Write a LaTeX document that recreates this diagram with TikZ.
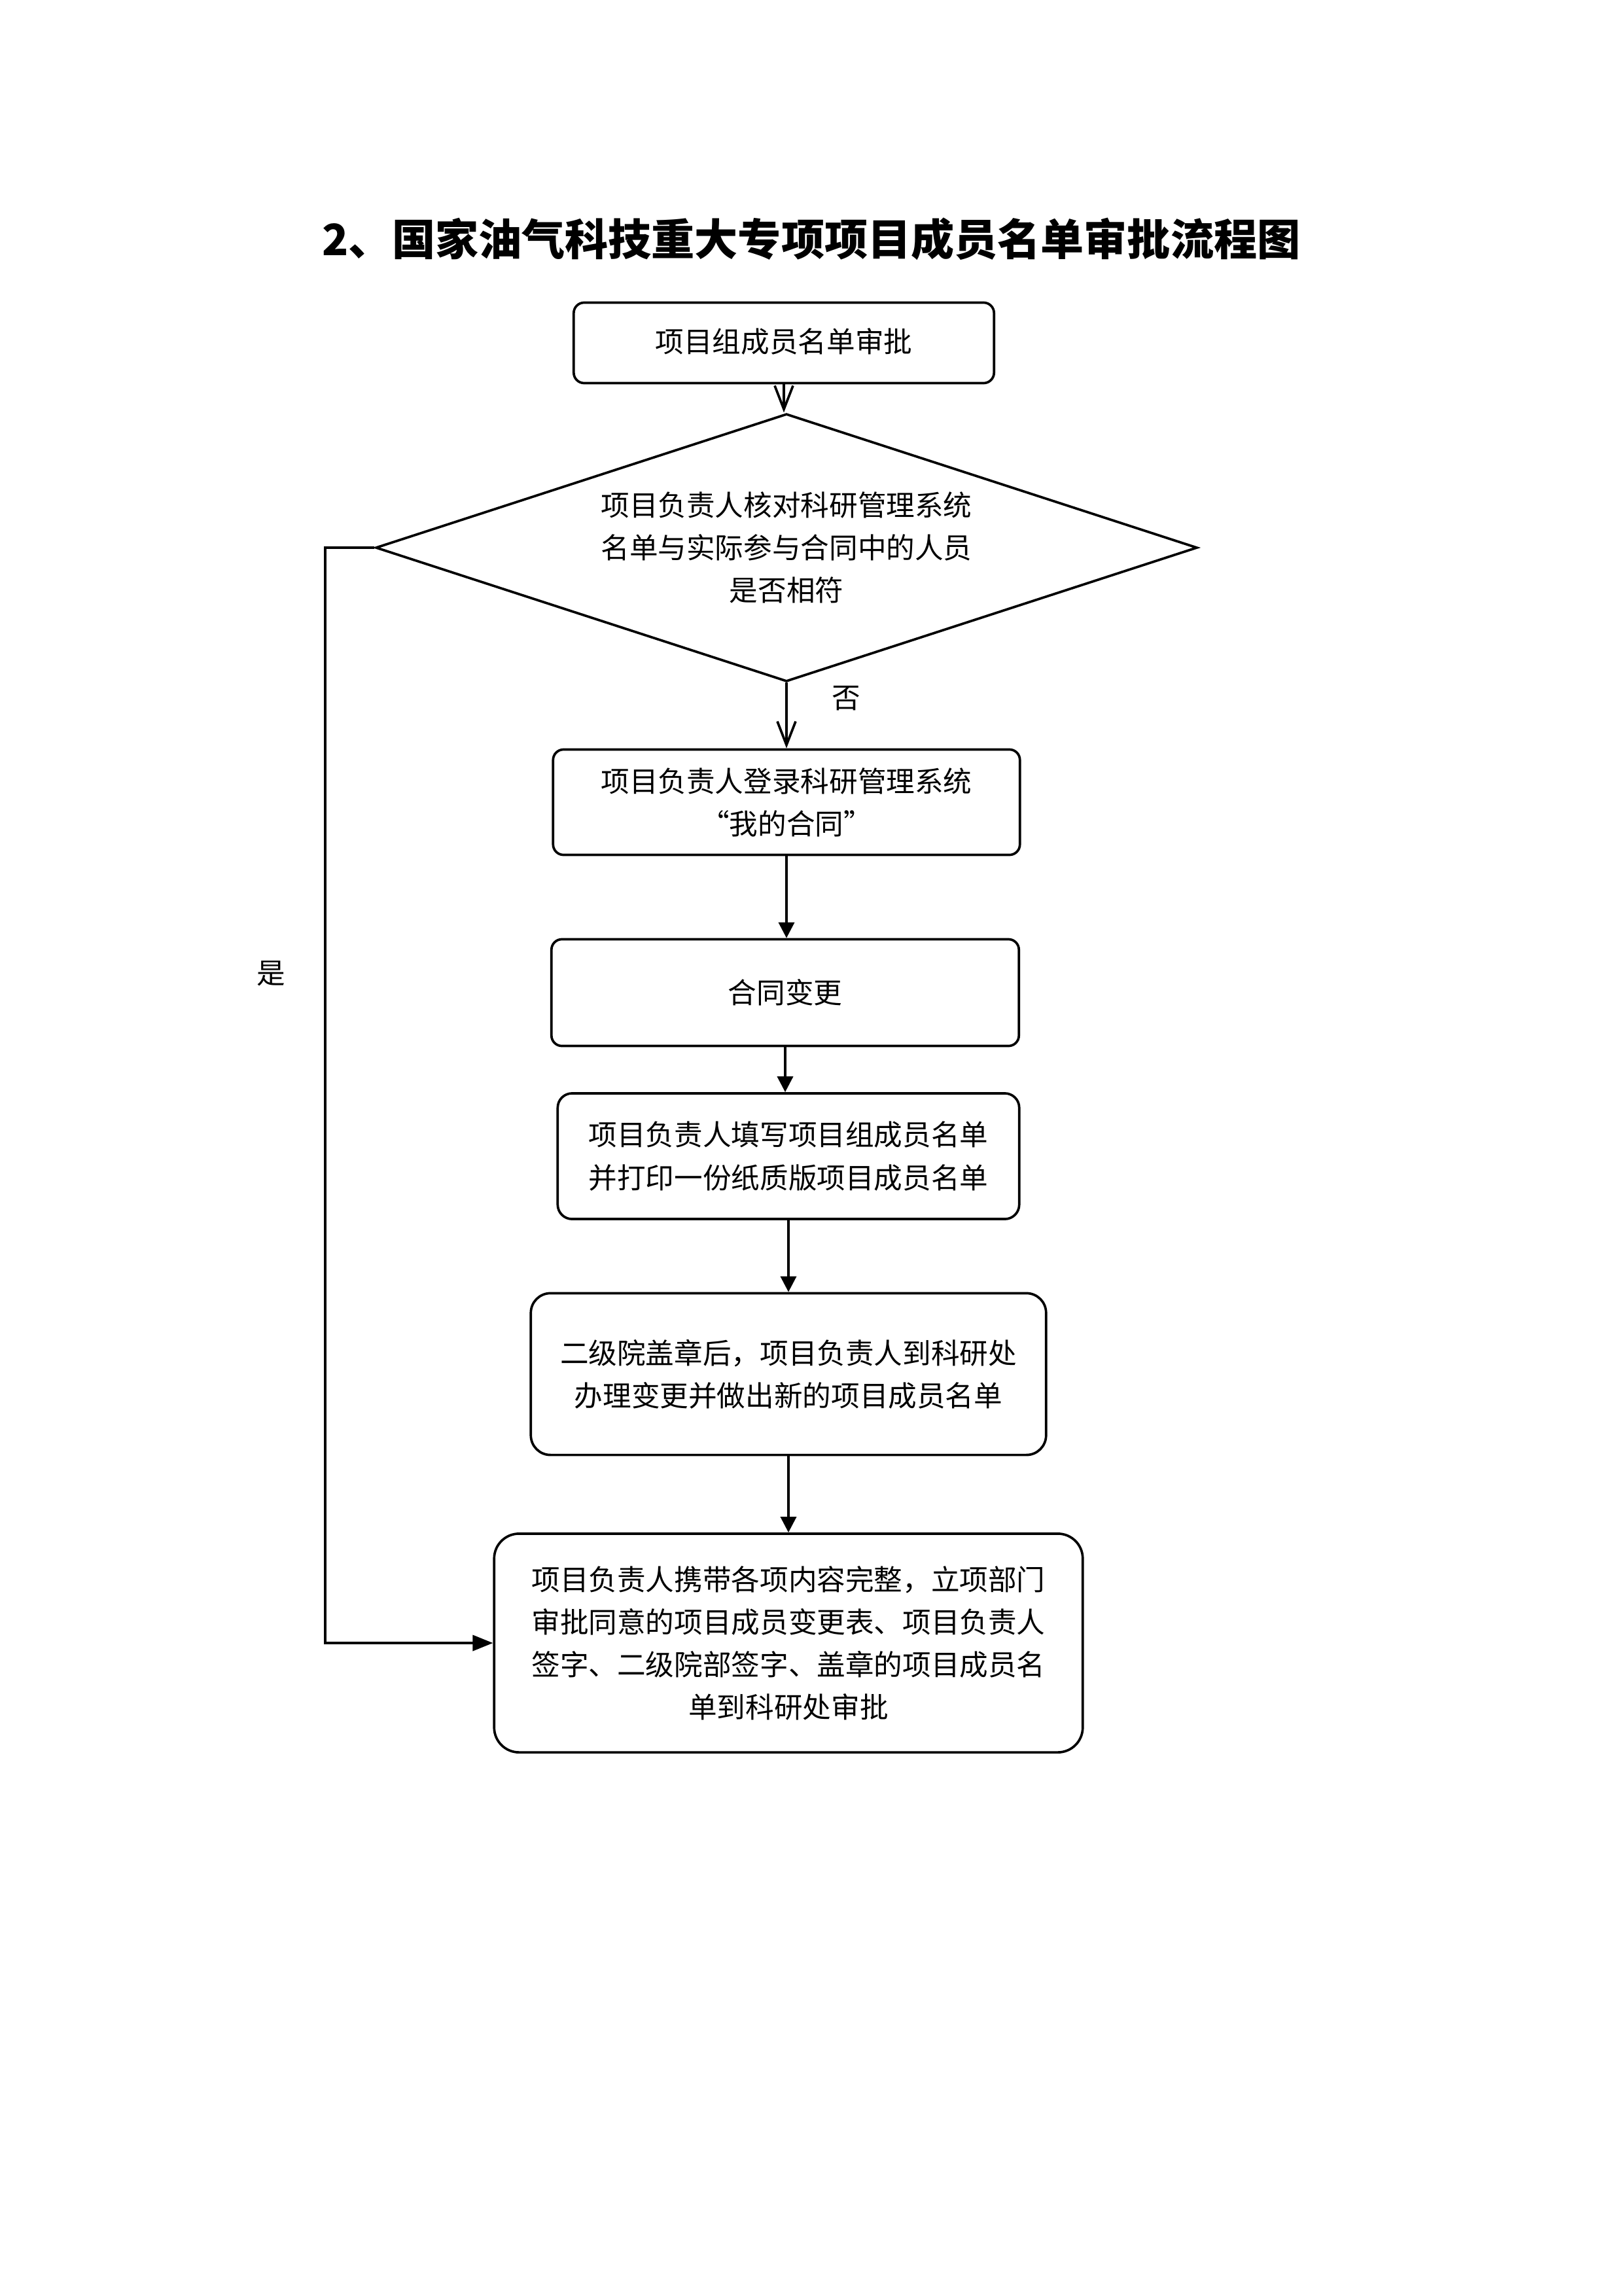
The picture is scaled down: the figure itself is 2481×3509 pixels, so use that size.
\documentclass[tikz,border=0pt]{standalone}
\usepackage{fontspec}
\setmainfont{Noto Sans CJK SC}
\usetikzlibrary{shapes.geometric,arrows.meta}
\newcommand\bodyfnt{\fontsize{12.4pt}{18.5pt}\selectfont}
\newcommand\titlefnt{\fontsize{18.8pt}{22pt}\selectfont\bfseries}
\begin{document}
\begin{tikzpicture}[x=0.01cm,y=-0.01cm,line width=1.05pt,
  box/.style={draw,rounded corners=#1,align=center,font=\bodyfnt,inner sep=0pt},
  openarr/.style={-{Straight Barb[length=0.36cm,width=0.28cm]}},
  fillarr/.style={-{Triangle[length=0.24cm,width=0.24cm]}},
  lbl/.style={font=\bodyfnt,inner sep=0pt}]
\useasboundingbox (0,0) rectangle (2481,3509);
\fill[white] (0,0) rectangle (2481,3509);

\node[font=\titlefnt,inner sep=0pt] (title) at (1240,365) {2、国家油气科技重大专项项目成员名单审批流程图};

\node[box=0.16cm,minimum width=6.42cm,minimum height=1.23cm] (b1) at (1198,524) {\raisebox{0.07cm}{项目组成员名单审批}};

\node[draw,diamond,aspect=3,inner sep=0pt,minimum width=12.55cm,minimum height=4.09cm,align=center,font=\bodyfnt] (d) at (1202,837)
  {项目负责人核对科研管理系统\\名单与实际参与合同中的人员\\是否相符};

\node[box=0.16cm,minimum width=7.13cm,minimum height=1.61cm] (b2) at (1202,1226) {项目负责人登录科研管理系统\\“我的合同”};
\node[box=0.16cm,minimum width=7.14cm,minimum height=1.63cm] (b3) at (1200,1517) {合同变更};
\node[box=0.22cm,minimum width=7.05cm,minimum height=1.92cm] (b4) at (1205,1767) {项目负责人填写项目组成员名单\\并打印一份纸质版项目成员名单};
\node[box=0.30cm,minimum width=7.87cm,minimum height=2.47cm] (b5) at (1205,2100) {二级院盖章后，项目负责人到科研处\\办理变更并做出新的项目成员名单};
\node[box=0.38cm,minimum width=8.99cm,minimum height=3.34cm] (b6) at (1205,2511) {项目负责人携带各项内容完整，立项部门\\审批同意的项目成员变更表、项目负责人\\签字、二级院部签字、盖章的项目成员名\\单到科研处审批};

\node[lbl] (no) at (1293,1067) {否};
\node[lbl] (yes) at (414,1488) {是};
\coordinate (lc) at (497,837);

\draw[openarr] (b1.south) -- (b1.south |- d.north);
\draw[openarr] (d.south) -- (d.south |- b2.north);
\draw[fillarr] (b2.south) -- (b2.south |- b3.north);
\draw[fillarr] (b3.south) -- (b3.south |- b4.north);
\draw[fillarr] (b4.south) -- (b4.south |- b5.north);
\draw[fillarr] (b5.south) -- (b5.south |- b6.north);
\draw[-{Triangle[length=0.31cm,width=0.24cm]}] (d.west) -- (lc) |- (b6.west);
\end{tikzpicture}
\end{document}
